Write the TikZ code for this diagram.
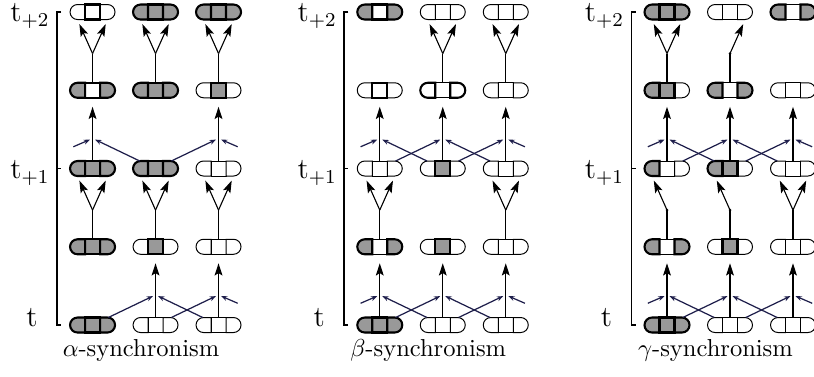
\documentclass[tikz,border=0pt]{standalone}
\usetikzlibrary{arrows.meta, calc}

\definecolor{cellgray}{gray}{0.6}
\definecolor{navyline}{RGB}{30,30,75}

\tikzset{
  fg/.style={draw, fill=cellgray, line width=0.4pt},
  fw/.style={draw, fill=white, line width=0.4pt},
  fk/.style={draw, fill=white, line width=0.4pt},
  bg/.style={draw, line width=0.85pt},
  bw/.style={},
  bk/.style={draw, line width=0.85pt},
  axis/.style={line width=0.7pt},
  vert/.style={line width=0.45pt, -{Stealth[length=5pt, width=3.2pt, inset=1pt]}},
  link/.style={draw=navyline, line width=0.5pt, -{Stealth[length=2.6pt, width=2pt]}},
}

% one cell: left half, middle square, right half (g gray, w white, k white bold)
\newcommand{\capsule}[4]{%
  \begin{scope}[shift={(#1)}]
    \path[f#2] (-0.5,-0.5) -- (-1,-0.5) arc (270:90:0.5) -- (-0.5,0.5) -- cycle;
    \path[f#3] (-0.5,-0.5) rectangle (0.5,0.5);
    \path[f#4] (0.5,-0.5) -- (1,-0.5) arc (-90:90:0.5) -- (0.5,0.5) -- cycle;
    \path[b#2] (-0.5,-0.5) -- (-1,-0.5) arc (270:90:0.5) -- (-0.5,0.5) -- cycle;
    \path[b#3] (-0.5,-0.5) rectangle (0.5,0.5);
    \path[b#4] (0.5,-0.5) -- (1,-0.5) arc (-90:90:0.5) -- (0.5,0.5) -- cycle;
  \end{scope}}
\newcommand{\cellrow}[5]{\capsule{#1#2-1}#3\capsule{#1#2-2}#4\capsule{#1#2-3}#5}

% neighbour step: centre update with the two incoming links
\newcommand{\update}[3]{%
  \pgfmathtruncatemacro{\nxt}{#2+1}
  \pgfmathtruncatemacro{\lft}{#3-1}
  \pgfmathtruncatemacro{\rgt}{#3+1}
  \draw[vert] ($(#1#2-#3)+(0,0.5)$) -- ($(#1\nxt-#3)+(0,-1.1)$);
  \ifnum#3=1
    \draw[link] ($(#1#2-#3)+(-1.28,1.45)$) -- ($(#1#2-#3)+(-0.17,1.93)$);
  \else
    \draw[link] ($(#1#2-\lft)+(1.05,0.5)$) -- ($(#1#2-#3)+(-0.17,1.93)$);
  \fi
  \ifnum#3=3
    \draw[link] ($(#1#2-#3)+(1.28,1.45)$) -- ($(#1#2-#3)+(0.17,1.93)$);
  \else
    \draw[link] ($(#1#2-\rgt)+(-1.05,0.5)$) -- ($(#1#2-#3)+(0.17,1.93)$);
  \fi}

% copy step: centre copied into both halves
\newcommand{\fork}[3]{%
  \pgfmathtruncatemacro{\nxt}{#2+1}
  \coordinate (f) at ($(#1#2-#3)+(0,2.45)$);
  \draw[line width=0.45pt] ($(#1#2-#3)+(0,0.5)$) -- (f);
  \draw[vert] (f) -- ($(#1\nxt-#3)+(-0.88,-0.8)$);
  \draw[vert] (f) -- ($(#1\nxt-#3)+(0.88,-0.8)$);}

% copy step into one half only (-1 left, 1 right)
\newcommand{\branch}[4]{%
  \pgfmathtruncatemacro{\nxt}{#2+1}
  \coordinate (f) at ($(#1#2-#3)+(0,2.45)$);
  \draw[line width=0.45pt] ($(#1#2-#3)+(0,0.5)$) -- (f);
  \fill (f) circle (0.6pt);
  \draw[vert] (f) -- ($(#1\nxt-#3)+(#4*0.88,-0.8)$);}

\begin{document}
\begin{tikzpicture}[x=2.15mm, y=2.15mm]
  \useasboundingbox (-3.8,-3.4) rectangle (50.47,21.67);
  \clip (-3.8,-3.4) rectangle (50.47,21.67);

  % cell centres
  \foreach \P/\x in {A/0, B/19.15, C/38.3}
    \foreach \r in {0,...,4}
      \foreach \c in {1,2,3}
        \coordinate (\P\r-\c) at ({\x+2.37+4.2*(\c-1)}, {5.217*\r});

  % time axes and captions
  \foreach \P/\x/\name in {A/0/alpha, B/19.15/beta, C/38.3/gamma} {
    \draw[axis] (\x+0.27,20.87) -- (\x,20.87) -- (\x,0) -- (\x+0.27,0);
    \draw[axis] (\x,10.43) -- (\x+0.27,10.43);
    \node[anchor=base, font=\large] (\P-t2) at (\x-1.8,20.23) {$\mathrm{t}_{+2}$};
    \node[anchor=base, font=\large] (\P-t1) at (\x-1.8,9.75) {$\mathrm{t}_{+1}$};
    \node[anchor=base, font=\large] (\P-t0) at (\x-1.67,-0.13) {t};
    \node[anchor=base] (\P-cap) at (\x+5.6,-2.13) {$\csname\name\endcsname$-synchronism};
  }

  % alpha
  \cellrow{A}{0}{ggg}{www}{www}
  \cellrow{A}{1}{ggg}{wgw}{www}
  \cellrow{A}{2}{ggg}{ggg}{www}
  \cellrow{A}{3}{gkg}{ggg}{wgw}
  \cellrow{A}{4}{wkw}{ggg}{ggg}
  \update{A}{0}{2} \update{A}{0}{3}
  \fork{A}{1}{1} \fork{A}{1}{2} \fork{A}{1}{3}
  \update{A}{2}{1} \update{A}{2}{3}
  \fork{A}{3}{1} \fork{A}{3}{2} \fork{A}{3}{3}

  % beta
  \cellrow{B}{0}{ggg}{www}{www}
  \cellrow{B}{1}{gwg}{wgw}{www}
  \cellrow{B}{2}{www}{wgw}{www}
  \cellrow{B}{3}{wkw}{kwk}{www}
  \cellrow{B}{4}{gkg}{www}{www}
  \update{B}{0}{1} \update{B}{0}{2} \update{B}{0}{3}
  \fork{B}{1}{1} \fork{B}{1}{3}
  \update{B}{2}{1} \update{B}{2}{2} \update{B}{2}{3}
  \fork{B}{3}{2} \fork{B}{3}{3}

  % gamma
  \cellrow{C}{0}{ggg}{www}{www}
  \cellrow{C}{1}{gwg}{wgw}{www}
  \cellrow{C}{2}{gww}{ggw}{www}
  \cellrow{C}{3}{ggw}{gwg}{www}
  \cellrow{C}{4}{ggg}{www}{gwg}
  \update{C}{0}{1} \update{C}{0}{2} \update{C}{0}{3}
  \branch{C}{1}{1}{-1} \branch{C}{1}{2}{-1} \fork{C}{1}{3}
  \update{C}{2}{1} \update{C}{2}{2} \update{C}{2}{3}
  \fork{C}{3}{1} \branch{C}{3}{2}{1}
\end{tikzpicture}
\end{document}
